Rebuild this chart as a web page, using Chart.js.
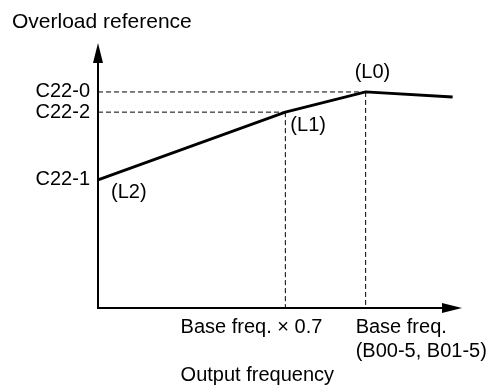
<!DOCTYPE html>
<html>
<head>
<meta charset="utf-8">
<script src="https://cdn.jsdelivr.net/npm/chart.js@4/dist/chart.umd.min.js"></script>
<style>
  html, body { margin: 0; padding: 0; background: #fff; }
  canvas { display: block; }
</style>
</head>
<body>
<canvas id="c" width="494" height="385"></canvas>
<script>
// Overload reference curve: (L2) at zero frequency, (L1) at 0.7 x base, (L0) at base frequency
const curveFreq = [0, 0.7, 1.0, 1.325];
const curveLevel = [89, 136, 150, 146.5];
const pointNames = ['(L2)', '(L1)', '(L0)'];
const levelTickValues = [150, 136, 89];
const levelTickLabels = ['C22-0', 'C22-2', 'C22-1'];
const freqTickValues = [0.7, 1.0];
const freqTickLabels = [['Base freq. \u00d7 0.7'], ['Base freq.', '(B00-5, B01-5)']];
const axisTitleY = 'Overload reference';
const axisTitleX = 'Output frequency';
const freqMax = 1.36;
const levelMax = 184;

const FONT = '"Liberation Sans", Arial, Helvetica, sans-serif';

const curvePoints = curveFreq.map((x, i) => ({ x, y: curveLevel[i] }));

// Dashed guides from (L1) and (L0) to both axes
const guideSets = [];
[1, 2].forEach(i => {
  const f = curveFreq[i], l = curveLevel[i];
  guideSets.push([{ x: 0, y: l }, { x: f, y: l }]);
  guideSets.push([{ x: f, y: l }, { x: f, y: 0 }]);
});

const datasets = guideSets.map(pts => ({
  data: pts,
  showLine: true,
  borderColor: '#000',
  borderWidth: 1,
  borderDash: [5, 3],
  pointRadius: 0,
  clip: false
}));
datasets.push({
  data: curvePoints,
  showLine: true,
  borderColor: '#000',
  borderWidth: 2.8,
  borderJoinStyle: 'miter',
  pointRadius: 0,
  tension: 0,
  clip: false
});

// Axes with arrowheads, frequency labels, axis titles and point names
const diagramPlugin = {
  id: 'diagram',
  beforeDatasetsDraw(chart) {
    const ctx = chart.ctx;
    const xs = chart.scales.x, ys = chart.scales.y;
    const x0 = xs.getPixelForValue(0), y0 = ys.getPixelForValue(0);
    const xEnd = xs.getPixelForValue(freqMax), yEnd = ys.getPixelForValue(levelMax);
    const headLen = 20, headHalf = 5;
    ctx.save();
    ctx.strokeStyle = '#000';
    ctx.fillStyle = '#000';
    ctx.lineWidth = 2;
    ctx.beginPath();
    ctx.moveTo(x0, yEnd + headLen - 1);
    ctx.lineTo(x0, y0);
    ctx.lineTo(xEnd - headLen + 1, y0);
    ctx.stroke();
    // y arrow
    ctx.beginPath();
    ctx.moveTo(x0, yEnd);
    ctx.lineTo(x0 - headHalf, yEnd + headLen);
    ctx.lineTo(x0 + headHalf, yEnd + headLen);
    ctx.closePath();
    ctx.fill();
    // x arrow
    ctx.beginPath();
    ctx.moveTo(xEnd, y0);
    ctx.lineTo(xEnd - headLen, y0 - headHalf);
    ctx.lineTo(xEnd - headLen, y0 + headHalf);
    ctx.closePath();
    ctx.fill();
    ctx.restore();
  },
  afterDatasetsDraw(chart) {
    const ctx = chart.ctx;
    const xs = chart.scales.x, ys = chart.scales.y;
    const y0 = ys.getPixelForValue(0);
    ctx.save();
    ctx.fillStyle = '#000';

    // y axis title
    ctx.font = '21px ' + FONT;
    ctx.textAlign = 'left';
    ctx.textBaseline = 'alphabetic';
    ctx.fillText(axisTitleY, 12, 28);

    // frequency labels
    ctx.font = '20px ' + FONT;
    const p07 = xs.getPixelForValue(freqTickValues[0]);
    const p10 = xs.getPixelForValue(freqTickValues[1]);
    ctx.textAlign = 'right';
    ctx.fillText(freqTickLabels[0][0], p07 + 37, y0 + 25);
    const firstLeft = p07 + 37 - ctx.measureText(freqTickLabels[0][0]).width;
    ctx.textAlign = 'left';
    freqTickLabels[1].forEach((line, k) => {
      ctx.fillText(line, p10 - 10, y0 + 25 + k * 23.5);
    });
    ctx.fillText(axisTitleX, firstLeft, y0 + 73);

    // point names
    const offs = [[13, 13], [5, 13], [-11, -19]];
    ctx.textBaseline = 'middle';
    pointNames.forEach((name, i) => {
      const px = xs.getPixelForValue(curveFreq[i]);
      const py = ys.getPixelForValue(curveLevel[i]);
      ctx.fillText(name, px + offs[i][0], py + offs[i][1]);
    });
    ctx.restore();
  }
};

new Chart(document.getElementById('c'), {
  type: 'scatter',
  data: { datasets },
  plugins: [diagramPlugin],
  options: {
    responsive: false,
    animation: false,
    devicePixelRatio: 1,
    layout: { padding: { top: 43, right: 32, bottom: 77, left: 0 } },
    plugins: { legend: { display: false }, tooltip: { enabled: false } },
    scales: {
      x: { type: 'linear', min: 0, max: freqMax, display: false },
      y: {
        type: 'linear',
        min: 0,
        max: levelMax,
        afterBuildTicks: s => { s.ticks = levelTickValues.map(v => ({ value: v })); },
        afterFit: s => { s.width = 98; },
        grid: { display: false, drawTicks: false },
        border: { display: false },
        ticks: {
          autoSkip: false,
          padding: 8,
          color: '#000',
          font: { family: FONT, size: 20 },
          callback: v => levelTickLabels[levelTickValues.indexOf(v)]
        }
      }
    }
  }
});
</script>
</body>
</html>
